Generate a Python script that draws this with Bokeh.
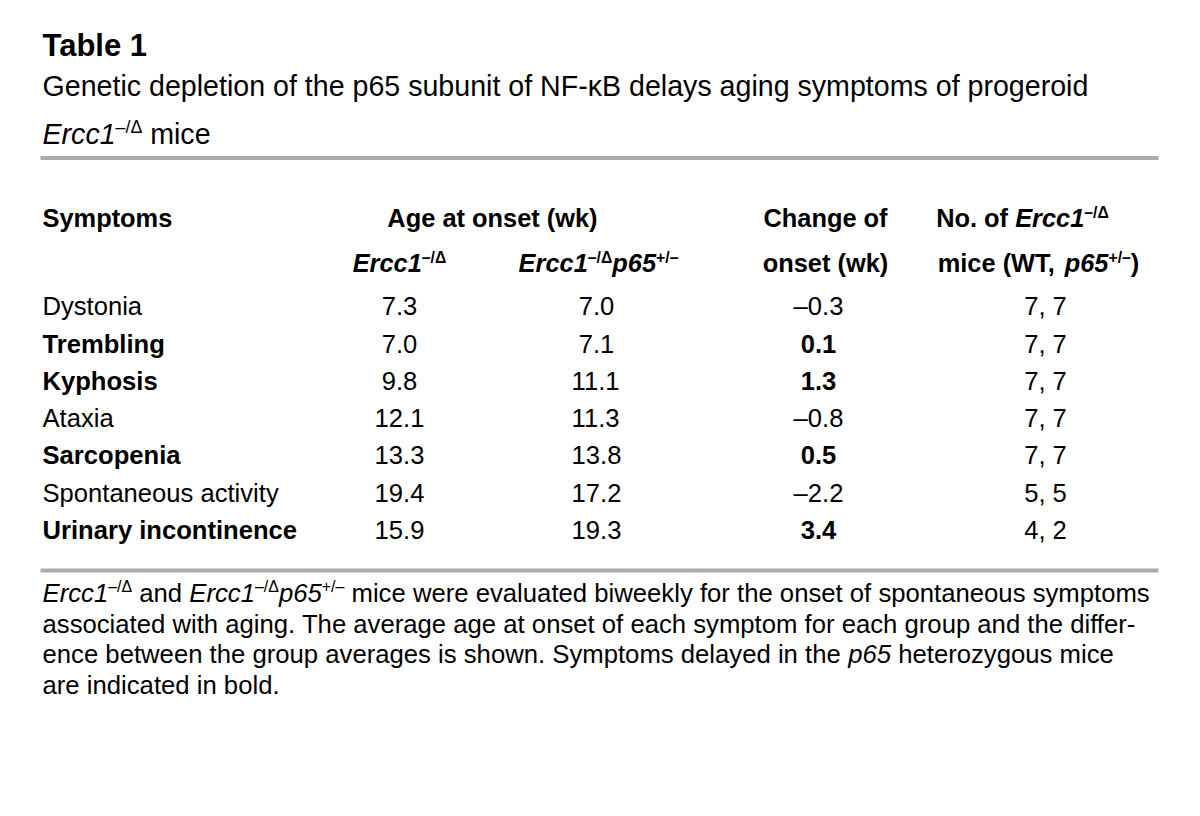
from bokeh.plotting import figure
from bokeh.models import Range1d, ColumnDataSource
from bokeh.core.properties import field, value
from bokeh.embed import file_html
from bokeh.resources import INLINE

# ---------------- data ----------------
table_label = "Table 1"
title_line1 = "Genetic depletion of the p65 subunit of NF-\u03baB delays aging symptoms of progeroid"
symptoms = ["Dystonia", "Trembling", "Kyphosis", "Ataxia", "Sarcopenia",
            "Spontaneous activity", "Urinary incontinence"]
onset_ercc1 = [7.3, 7.0, 9.8, 12.1, 13.3, 19.4, 15.9]
onset_ercc1_p65 = [7.0, 7.1, 11.1, 11.3, 13.8, 17.2, 19.3]
onset_change = [-0.3, 0.1, 1.3, -0.8, 0.5, -2.2, 3.4]
n_mice = ["7, 7", "7, 7", "7, 7", "7, 7", "7, 7", "5, 5", "4, 2"]
footnote_lines = [
    [("Ercc1", "i"), ("\u2013/\u0394", "s"), (" and ", "n"), ("Ercc1", "i"), ("\u2013/\u0394", "s"),
     ("p65", "i"), ("+/\u2013", "s"),
     (" mice were evaluated biweekly for the onset of spontaneous symptoms", "n")],
    [("associated with aging. The average age at onset of each symptom for each group and the differ-", "n")],
    [("ence between the group averages is shown. Symptoms delayed in the ", "n"), ("p65", "i"),
     (" heterozygous mice", "n")],
    [("are indicated in bold.", "n")],
]

# ---------------- font metrics (Helvetica / Liberation Sans, per 1000 em) ----------------
REG = {" ": 278, "(": 333, ")": 333, "+": 584, ",": 278, "-": 333, ".": 278, "/": 278,
       ":": 278, "\u2013": 556, "\u0394": 668, "\u03ba": 500}
BOLD = {" ": 278, "(": 333, ")": 333, "+": 584, ",": 278, "-": 333, ".": 278, "/": 278,
        ":": 333, "\u2013": 556, "\u0394": 722, "\u03ba": 556}
for d in "0123456789":
    REG[d] = 556
    BOLD[d] = 556
REG.update(dict(zip("ABCDEFGHIJKLMNOPQRSTUVWXYZ",
                    [667, 667, 722, 722, 667, 611, 778, 722, 278, 500, 667, 556, 833, 722, 778, 667, 778, 722,
                     667, 611, 722, 667, 944, 667, 667, 611])))
REG.update(dict(zip("abcdefghijklmnopqrstuvwxyz",
                    [556, 556, 500, 556, 556, 278, 556, 556, 222, 222, 500, 222, 833, 556, 556, 556, 556, 333,
                     500, 278, 556, 500, 722, 500, 500, 500])))
BOLD.update(dict(zip("ABCDEFGHIJKLMNOPQRSTUVWXYZ",
                     [722, 722, 722, 722, 667, 611, 778, 722, 278, 556, 722, 611, 833, 722, 778, 667, 778, 722,
                      667, 611, 722, 667, 944, 667, 667, 611])))
BOLD.update(dict(zip("abcdefghijklmnopqrstuvwxyz",
                     [556, 611, 556, 611, 556, 333, 611, 611, 278, 278, 556, 278, 889, 611, 611, 611, 611, 389,
                      556, 333, 611, 556, 778, 556, 556, 500])))

KINDS = {"n": ("normal", False), "i": ("italic", False), "b": ("bold", False),
         "bi": ("bold italic", False), "s": ("normal", True), "sb": ("bold", True)}
FONT = "Liberation Sans"
SUP_SCALE = 0.62
SUP_RAISE = 0.38
BASELINE_FIX = 0.36   # empirical shift so glyph baselines land where intended


def text_width(text, style, size):
    table = BOLD if "bold" in style else REG
    return sum(table.get(ch, 556) for ch in text) / 1000.0 * size


segs = {"x": [], "y": [], "text": [], "style": [], "size": []}


def rich(parts, x, y, size, align="left"):
    items = []
    total = 0.0
    for t, k in parts:
        style, sup = KINDS[k]
        s = size * SUP_SCALE if sup else size
        dy = -size * SUP_RAISE if sup else 0.0
        body = t.lstrip(" ")
        lead = text_width(t[:len(t) - len(body)], style, s)
        items.append((body, style, s, dy, total + lead))
        total += text_width(t, style, s)
    x0 = x - total / 2.0 if align == "center" else x
    for t, style, s, dy, off in items:
        segs["x"].append(x0 + off)
        segs["y"].append(y + dy - BASELINE_FIX * s)
        segs["text"].append(t)
        segs["style"].append(style)
        segs["size"].append("%.2fpx" % s)


def fmt(v):
    return ("%.1f" % v).replace("-", "\u2013")


# ---------------- layout ----------------
LEFT = 42
TITLE_SIZE = 28.6
HEAD_SIZE = 25.4
BODY_SIZE = 25.6
NOTE_SIZE = 25.7
col_centers = [399, 596, 818, 1045]
row0, row_step = 315.0, 37.25

rich([(table_label, "b")], LEFT, 56, 31)
rich([(title_line1, "n")], LEFT, 96, TITLE_SIZE)
rich([("Ercc1", "i"), ("\u2013/\u0394", "s"), (" mice", "n")], LEFT, 144, TITLE_SIZE)

# header
rich([("Symptoms", "b")], LEFT, 227, HEAD_SIZE)
rich([("Age at onset (wk)", "b")], 492, 227, HEAD_SIZE, "center")
rich([("Change of", "b")], 825, 227, HEAD_SIZE, "center")
rich([("No. of ", "b"), ("Ercc1", "bi"), ("\u2013/\u0394", "sb")], 1022, 227, HEAD_SIZE, "center")
rich([("Ercc1", "bi"), ("\u2013/\u0394", "sb")], 399, 272, HEAD_SIZE, "center")
rich([("Ercc1", "bi"), ("\u2013/\u0394", "sb"), ("p65", "bi"), ("+/\u2013", "sb")], 598, 272, HEAD_SIZE, "center")
rich([("onset (wk)", "b")], 825, 272, HEAD_SIZE, "center")
rich([("mice (WT, ", "b"), ("p65", "bi"), ("+/\u2013", "sb"), (")", "b")], 1038, 272, HEAD_SIZE, "center")

# body
for i, name in enumerate(symptoms):
    y = row0 + row_step * i
    delayed = onset_change[i] > 0
    rich([(name, "b" if delayed else "n")], LEFT, y, BODY_SIZE)
    rich([(fmt(onset_ercc1[i]), "n")], col_centers[0], y, BODY_SIZE, "center")
    rich([(fmt(onset_ercc1_p65[i]), "n")], col_centers[1], y, BODY_SIZE, "center")
    rich([(fmt(onset_change[i]), "b" if delayed else "n")], col_centers[2], y, BODY_SIZE, "center")
    rich([(n_mice[i], "n")], col_centers[3], y, BODY_SIZE, "center")

# footnote
for j, parts in enumerate(footnote_lines):
    rich(parts, LEFT, 602 + 30.5 * j, NOTE_SIZE)

# ---------------- figure ----------------
p = figure(width=1184, height=800, x_range=Range1d(0, 1184), y_range=Range1d(800, 0),
           x_axis_type=None, y_axis_type=None, toolbar_location=None, output_backend="svg",
           min_border=0, outline_line_color=None, background_fill_color="white")
p.grid.visible = False

p.segment(x0=[40, 40], y0=[157.5, 570], x1=[1158, 1158], y1=[157.5, 570],
          line_width=4, line_color="#ababab")

src = ColumnDataSource(segs)
p.text(x="x", y="y", text="text", source=src, text_font=value(FONT),
       text_font_style=field("style"), text_font_size=field("size"),
       text_align="left", text_baseline="alphabetic", text_color="#000000")

open("out.html", "w").write(file_html(p, INLINE))
